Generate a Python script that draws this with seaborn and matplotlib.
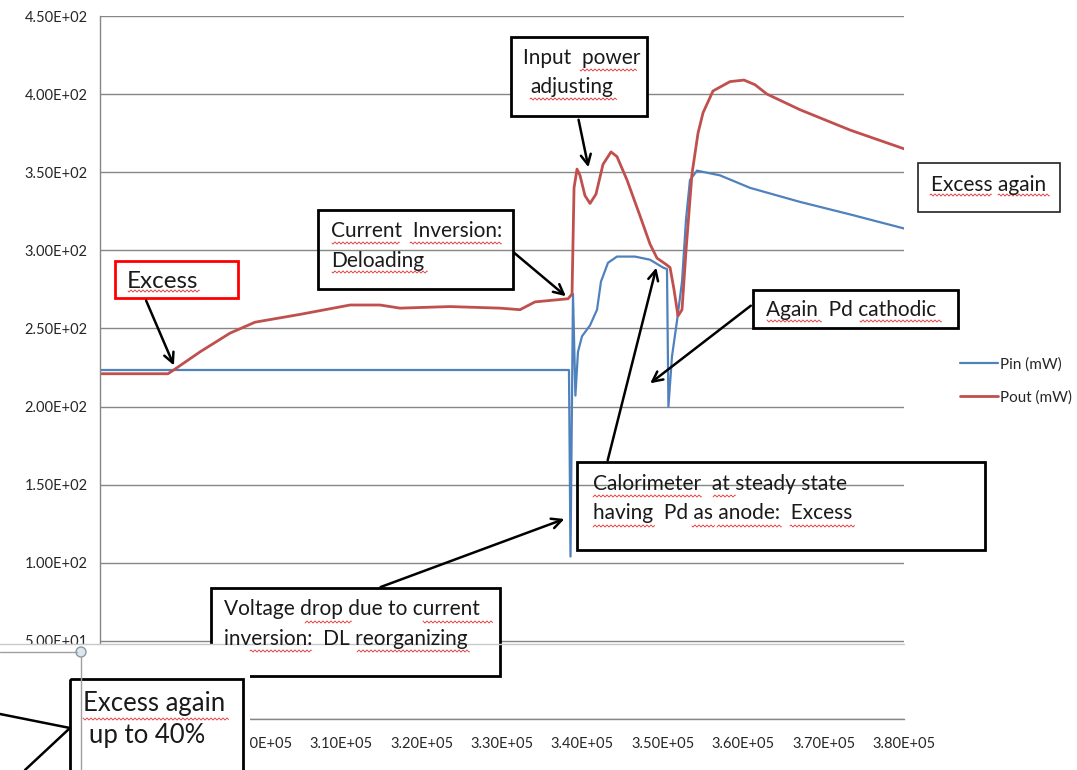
import numpy as np
import pandas as pd
import matplotlib
matplotlib.use("Agg")
import matplotlib.pyplot as plt
import seaborn as sns
from matplotlib.patches import Rectangle, Circle
from matplotlib.ticker import FuncFormatter, MultipleLocator

# data (time, mW)
pin_t = [280000, 338330, 338520, 338830, 339130, 339450, 339950, 340950, 341820,
         342310, 343180, 344300, 346540, 348410, 350020, 350520, 350700, 351140,
         351770, 352390, 352890, 353380, 354250, 357110, 360850, 367070, 373290, 380000]
pin_mw = [223.4, 223.4, 104, 272, 207, 235, 245, 252, 262,
          280, 292, 296, 296, 294, 289, 288, 200, 232,
          255, 280, 320, 345, 351, 348, 340, 331, 323, 314]

pout_t = [280000, 288460, 289330, 292440, 296170, 299280, 304880, 311100, 314830,
          317310, 323530, 329750, 332240, 334110, 338210, 338710, 338960, 339330,
          339700, 340320, 340950, 341690, 342560, 343560, 344300, 345550, 347170,
          348410, 349280, 350400, 350900, 351390, 351890, 352390, 352890, 353630,
          354380, 355000, 356240, 358360, 360100, 361470, 362960, 367070, 373290, 380000]
pout_mw = [221, 221, 224, 235, 247, 254, 259, 265, 265,
           263, 264, 263, 262, 267, 269, 272, 340, 352,
           348, 335, 330, 336, 355, 363, 360, 345, 322,
           304, 295, 291, 289, 275, 258, 262, 300, 349,
           375, 388, 402, 408, 409, 406, 400, 390, 377, 365]

series_names = ["Pin (mW)", "Pout (mW)"]
colors = {"Pin (mW)": "#4F81BD", "Pout (mW)": "#C0504D"}

df = pd.concat([
    pd.DataFrame({"t": pin_t, "P": pin_mw, "serie": series_names[0]}),
    pd.DataFrame({"t": pout_t, "P": pout_mw, "serie": series_names[1]}),
])

sns.set_theme(style="white")
plt.rcParams["font.family"] = ["Lato", "DejaVu Sans"]

W, H = 1077, 770
fig = plt.figure(figsize=(W / 100, H / 100), dpi=100)
ax = fig.add_axes([100 / W, 1 - 719 / H, 804 / W, 703 / H])

sns.lineplot(data=df[df.serie == series_names[0]], x="t", y="P", color=colors[series_names[0]],
             estimator=None, lw=1.6, ax=ax, label=series_names[0])
sns.lineplot(data=df[df.serie == series_names[1]], x="t", y="P", color=colors[series_names[1]],
             estimator=None, lw=2.0, ax=ax, label=series_names[1])

ax.set_xlim(280000, 380000)
ax.set_ylim(0, 450)
ax.yaxis.set_major_locator(MultipleLocator(50))
ax.xaxis.set_major_locator(MultipleLocator(10000))
ax.yaxis.set_major_formatter(FuncFormatter(lambda v, p: f"{v:.2E}"))
# labels left of 3.00E+05 sit under the pasted panel anyway
ax.xaxis.set_major_formatter(FuncFormatter(lambda v, p: f"{v:.2E}" if v > 295000 else ""))
ax.set_xlabel("")
ax.set_ylabel("")
ax.grid(axis="y", color="#868686", lw=1)
ax.set_axisbelow(True)
for s in ["top", "right"]:
    ax.spines[s].set_visible(False)
for s in ["left", "bottom"]:
    ax.spines[s].set_color("#868686")
    ax.spines[s].set_linewidth(1)
ax.tick_params(axis="both", direction="out", length=5, width=1, color="#868686",
               labelsize=10.5, labelcolor="#262626", pad=4)
ax.tick_params(axis="x", pad=8)

ax.legend(loc="center left", bbox_to_anchor=(960 / W, 1 - 381 / H), bbox_transform=fig.transFigure,
          frameon=False, fontsize=11, handlelength=2.5, handletextpad=0.1,
          labelspacing=1.2, borderpad=0, borderaxespad=0)

# overlay in pixel coords for the pasted callouts
ov = fig.add_axes([0, 0, 1, 1], zorder=5)
ov.set_xlim(0, W)
ov.set_ylim(H, 0)
ov.axis("off")
ov.patch.set_alpha(0)


def squiggle(x0, x1, y):
    xs = np.arange(x0, x1, 0.5)
    ov.plot(xs, y + 1.0 * np.sin(xs * 2 * np.pi / 4), color="#E03030", lw=0.6)


def box(x0, y0, x1, y1, ec="black", lw=2, fill=False):
    ov.add_patch(Rectangle((x0, y0), x1 - x0, y1 - y0, fill=fill, fc="white", ec=ec, lw=lw))


def txt(x, y, s, size=15):
    ov.text(x, y, s, fontsize=size, color="#1a1a1a", va="center", ha="left")


def arrow(x0, y0, x1, y1):
    ov.annotate("", xy=(x1, y1), xytext=(x0, y0),
                arrowprops=dict(arrowstyle="->", color="black", lw=1.8, mutation_scale=18))


# Excess
box(115, 261, 238, 298, ec="#FF0000")
txt(127, 281, "Excess", 17.5)
squiggle(128, 200, 291)
arrow(145, 298, 175, 368)

# Current inversion
box(318, 210, 513, 289)
txt(331, 231, "Current  Inversion:")
txt(331, 261, "Deloading")
squiggle(332, 400, 243)
squiggle(410, 502, 243)
squiggle(332, 428, 272)
arrow(512, 251, 568, 298)

# Input power
box(511, 37, 647, 116, fill=True)
txt(523, 58, "Input  power")
txt(530, 87, "adjusting")
squiggle(580, 637, 70)
squiggle(530, 617, 99)
arrow(578, 117, 589, 170)

# Excess again (right)
box(918, 163, 1060, 212, ec="#222222", lw=1.2, fill=True)
txt(931, 185, "Excess again")
squiggle(930, 992, 195)
squiggle(998, 1050, 195)

# Again Pd cathodic
box(753, 290, 958, 328, fill=True)
txt(766, 310, "Again  Pd cathodic")
squiggle(767, 822, 321)
squiggle(860, 942, 321)
arrow(753, 304, 648, 385)

# Calorimeter
box(577, 462, 985, 550)
txt(593, 484, "Calorimeter  at steady state")
txt(593, 513, "having  Pd as anode:  Excess")
squiggle(593, 702, 496)
squiggle(713, 736, 496)
squiggle(593, 655, 526)
squiggle(692, 715, 526)
squiggle(717, 782, 526)
squiggle(790, 855, 526)
arrow(607, 463, 657, 265)

# Voltage drop
box(211, 588, 500, 676, fill=True)
txt(224, 609, "Voltage drop due to current")
txt(224, 639, "inversion:  DL reorganizing")
squiggle(305, 352, 622)
squiggle(423, 493, 622)
squiggle(250, 312, 651)
squiggle(357, 470, 651)
arrow(378, 588, 567, 518)

# pasted panel at the bottom left
ov.add_patch(Rectangle((0, 645), 250, 130, fc="white", ec="none"))
ov.plot([0, 904], [644, 644], color="#C8C8C8", lw=1)
ov.plot([0, 77], [652, 652], color="#A0A0A0", lw=1)
ov.plot([81, 81], [657, 770], color="#A0A0A0", lw=1)
ov.add_patch(Circle((81, 652), 5, fc="#DCE6EC", ec="#8A9AA5", lw=1))
ov.add_patch(Rectangle((70, 679), 173, 100, fc="none", ec="black", lw=2))
txt(83, 703, "Excess again", 18.5)
txt(89, 735, "up to 40%", 18.5)
squiggle(83, 229, 719)
ov.plot([0, 70], [714, 728], color="black", lw=1.8)
ov.plot([25, 70], [770, 728], color="black", lw=1.8)

fig.savefig("out.png", dpi=100)
